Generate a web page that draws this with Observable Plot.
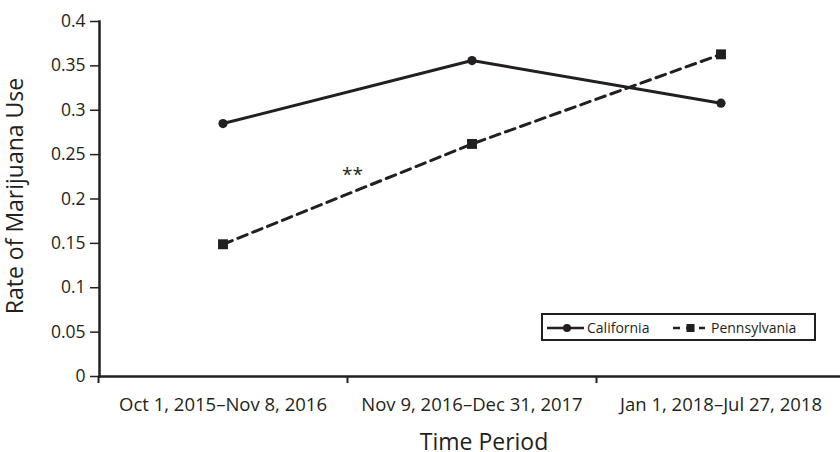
<!DOCTYPE html>
<html>
<head>
<meta charset="utf-8">
<script src="https://cdn.jsdelivr.net/npm/d3@7"></script>
<script src="https://cdn.jsdelivr.net/npm/@observablehq/plot@0.6"></script>
<style>
  html, body { margin: 0; padding: 0; background: #fff; }
  #wrap { position: relative; width: 840px; height: 452px; font-family: "Open Sans", sans-serif; color: #231f20; }
  #legend { position: absolute; left: 541px; top: 313px; }
</style>
</head>
<body>
<div id="wrap"></div>
<script>
const periods = ["Oct 1, 2015–Nov 8, 2016", "Nov 9, 2016–Dec 31, 2017", "Jan 1, 2018–Jul 27, 2018"];
const california = [0.285, 0.356, 0.308];
const pennsylvania = [0.149, 0.262, 0.363];
const yTicks = [0, 0.05, 0.1, 0.15, 0.2, 0.25, 0.3, 0.35, 0.4];
const yTickLabels = ["0", "0.05", "0.1", "0.15", "0.2", "0.25", "0.3", "0.35", "0.4"];
const seriesNames = ["California", "Pennsylvania"];
const annotation = [{pos: 1, value: 0.227, label: "**"}];

const ink = "#231f20";
const ca = periods.map((p, i) => ({pos: i + 0.5, value: california[i]}));
const pa = periods.map((p, i) => ({pos: i + 0.5, value: pennsylvania[i]}));

const chart = Plot.plot({
  width: 840,
  height: 452,
  marginLeft: 99,
  marginRight: 0,
  marginTop: 21,
  marginBottom: 76,
  style: {fontFamily: "Open Sans, sans-serif", color: ink, background: "#fff", overflow: "visible"},
  x: {type: "linear", domain: [0, periods.length], range: [98, 845], axis: null, label: null},
  y: {domain: [0, 0.4], axis: null, label: null},
  marks: [
    Plot.axisY({ticks: yTicks, label: null, tickSize: 9, tickPadding: 5, fontSize: 17.5, strokeWidth: 1.5,
      tickFormat: d => yTickLabels[yTicks.indexOf(d)]}),
    Plot.axisX({ticks: d3.range(periods.length + 1), label: null, tickSize: 7, strokeWidth: 2, tickFormat: () => ""}),
    Plot.axisX({ticks: periods.map((p, i) => i + 0.5), label: null, tickSize: 0, tickPadding: 21, fontSize: 18.5,
      tickFormat: d => periods[Math.floor(d)]}),
    Plot.frame({anchor: "left", stroke: ink, strokeWidth: 2.5}),
    Plot.frame({anchor: "bottom", stroke: ink, strokeWidth: 2.5}),
    Plot.line(ca, {x: "pos", y: "value", stroke: ink, strokeWidth: 3}),
    Plot.line(pa, {x: "pos", y: "value", stroke: ink, strokeWidth: 3, strokeDasharray: "10,6"}),
    Plot.dot(ca, {x: "pos", y: "value", symbol: "circle", r: 4.6, fill: ink}),
    Plot.dot(pa, {x: "pos", y: "value", symbol: "square", r: 5.6, fill: ink}),
    Plot.text(annotation, {x: "pos", y: "value", text: "label", fontSize: 19, fill: ink, dx: 5}),
    Plot.text(["Rate of Marijuana Use"], {frameAnchor: "left", textAnchor: "middle", rotate: -90, dx: -84, dy: -3, fontSize: 23, fill: ink}),
    Plot.text(["Time Period"], {frameAnchor: "bottom", textAnchor: "middle", lineAnchor: "top", dx: 14, dy: 57, fontSize: 23, fill: ink})
  ]
});
document.getElementById("wrap").appendChild(chart);

// legend
const lg = d3.select("#wrap").append("svg").attr("id", "legend").attr("width", 275).attr("height", 28)
  .style("font-family", "Open Sans, sans-serif");
lg.append("rect").attr("x", 1).attr("y", 1).attr("width", 273).attr("height", 26)
  .attr("fill", "#fff").attr("stroke", ink).attr("stroke-width", 2);
lg.append("line").attr("x1", 6).attr("x2", 43).attr("y1", 15).attr("y2", 15).attr("stroke", ink).attr("stroke-width", 2.5);
lg.append("circle").attr("cx", 26).attr("cy", 15).attr("r", 4).attr("fill", ink);
lg.append("text").attr("x", 46).attr("y", 19.5).attr("font-size", 14).attr("fill", ink).text(seriesNames[0]);
lg.append("line").attr("x1", 132).attr("x2", 164).attr("y1", 15).attr("y2", 15).attr("stroke", ink)
  .attr("stroke-width", 2.5).attr("stroke-dasharray", "7,6");
lg.append("rect").attr("x", 145.5).attr("y", 11).attr("width", 8).attr("height", 8).attr("fill", ink);
lg.append("text").attr("x", 170).attr("y", 19.5).attr("font-size", 14).attr("fill", ink).text(seriesNames[1]);
</script>
</body>
</html>
